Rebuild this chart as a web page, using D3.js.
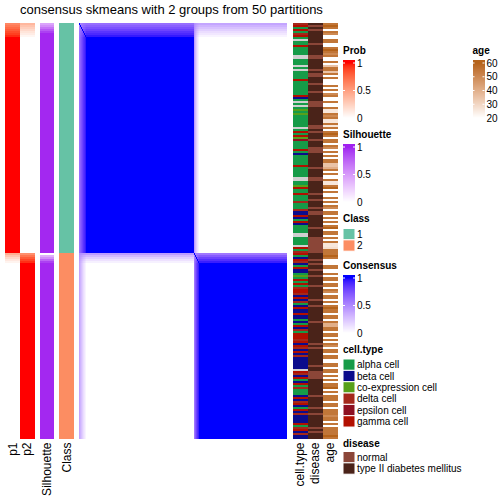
<!DOCTYPE html>
<html><head><meta charset="utf-8">
<script src="https://cdn.jsdelivr.net/npm/d3@7"></script>
<style>
body{margin:0;background:#fff}
svg{display:block}
text{font-family:"Liberation Sans",Arial,Helvetica,sans-serif;fill:#000}
</style></head>
<body><svg id="chart" width="504" height="504"></svg>
<script>
// ---------------- data ----------------
const chartTitle = "consensus skmeans with 2 groups from 50 partitions";
const classes = [1, 2];
const groupSizes = [115, 93];
// probability of class 1, per sample in plotted order, as runs [value, count]
const p1Runs = [[0.62,1],[0.68,1],[0.74,1],[0.8,1],[0.86,1],[0.9,1],[0.95,1],[1,108],
                [0.42,1],[0.3,1],[0.2,1],[0.12,1],[0.06,1],[0,88]];
// silhouette, per sample, runs [value, count]
const silRuns = [[0.45,1],[0.55,1],[0.68,1],[0.8,1],[0.9,1],[0.98,110],
                 [0,1],[0.4,1],[0.55,1],[0.75,1],[0.9,1],[0.98,88]];
const cellTypes = ["alpha cell","beta cell","co-expression cell","delta cell","epsilon cell","gamma cell"];
// a=alpha b=beta c=co-expression d=delta e=epsilon g=gamma x=missing
const cellTypeCodes = [
  "dgagadgaxa","agaaaaxxaa","axaxaaaaga","aaaaaagbax","axacacaaaa","aaxagagcea",
  "aaagabaaaa","agaaaaaxxa","acgaagaaad","aaadbbgbag","baaaaxxaaa","axgad",
  "gabgdbag","bb","aca","gagad","ggd","bgbdabg","bbgbbab","agbdag","ggdgbgd","bgbd",
  "bbbbbb","x","gd","bgabgad","aaa","bgbd","gbagbd","bbbb","gadgbdbb"].join("");
const diseases = ["normal","type II diabetes mellitus"];
// n=normal t=type II diabetes mellitus
const diseaseCodes = [
  "tntntttttt","ntttttnntt","tttntnnttt","ntttnttttn","nntttttttt","tnntntttnt",
  "ttnnnttttt","ttnttttnnt","tttttnttnt","ttntnntttt","ttnttttnnn","nnnnn",
  "tttntnttnt","tnttttnttt","tttnttnttt","ttttnttttt","tttttntntt","ttttttnttn",
  "nnnttttttt","tntttttntt","nttttttntn","ttt"].join("");
const ages = [
  55,60,55,20,55,50,20,20,55,55, 20,20,55,60,55,50,55,20,20,55,
  20,35,55,55,35,55,20,55,20,20, 20,55,20,55,20,50,55,20,20,55,
  20,20,55,26,26,55,50,55,26,26, 55,26,55,20,55,60,55,20,55,55,
  20,55,50,20,55,20,55,20,55,55, 35,35,40,55,20,55,20,20,55,26,
  26,55,60,20,55,20,20,55,20,55, 20,55,50,20,55,55,20,55,20,55,
  20,55,60,20,55,55,20,55,20,55, 26,26,28,55,55,
  55,60,55,20,20,20,55,55,20,20, 55,20,55,55,20,55,55,20,55,50,
  20,55,55,20,55,20,55,60,55,55, 20,55,55,20,55,40,40,55,55,20,
  55,55,20,55,20,55,50,20,55,55, 20,55,55,20,20,55,55,20,55,55,
  20,55,20,55,20,55,55,60,20,55, 20,55,55,55,20,55,55,20,55,55,
  55,50,55,55,20,55,20,55,55,55, 55,60,55];

// ---------------- colours ----------------
const probColor = d3.interpolateLab("#FFFFFF", "#FF0000");
const silColor = d3.interpolateLab("#FFFFFF", "#A020F0");
const consColor = d3.interpolateLab("#FFFFFF", "#0000FF");
const classColor = d3.scaleOrdinal().domain(classes).range(["#66C2A5", "#FC8D62"]);
const cellColor = d3.scaleOrdinal().domain(cellTypes).range(["#169B48","#0C0C8C","#57A01B","#A4281B","#8E1020","#B20F00"]);
const diseaseColor = d3.scaleOrdinal().domain(diseases).range(["#8B4638","#4A2319"]);
const ageInterp = d3.interpolateLab("#FFFFFF", "#B5631A");
const ageColor = v => ageInterp(Math.max(0, Math.min(1, (v - 20) / 40)));
const naColor = "#D0D0D0";

// ---------------- derived per-sample arrays ----------------
const expand = runs => runs.flatMap(([v, n]) => Array(n).fill(v));
const p1 = expand(p1Runs);
const p2 = p1.map(v => 1 - v);
const sil = expand(silRuns);
const N = d3.sum(groupSizes);
const samples = d3.range(N);
const cls = samples.map(i => i < groupSizes[0] ? 1 : 2);
const codeCell = {a:"alpha cell",b:"beta cell",c:"co-expression cell",d:"delta cell",e:"epsilon cell",g:"gamma cell",x:null};
const codeDis = {n:"normal",t:"type II diabetes mellitus"};
const cellType = samples.map(i => codeCell[cellTypeCodes[i]] ?? null);
const disease = samples.map(i => codeDis[diseaseCodes[i]] ?? null);

// ---------------- layout ----------------
const svg = d3.select("#chart");
const yTop = 23, yBottom = 438.5;
const y = d3.scaleBand().domain(samples).range([yTop, yBottom]);
const xh = d3.scaleBand().domain(samples).range([79, 287]);

svg.append("text").attr("x", 171.5).attr("y", 14).attr("text-anchor", "middle")
  .style("font-size", "13px").text(chartTitle);

// annotation columns
function column(x0, w, values, colorFn, name) {
  const g = svg.append("g");
  g.selectAll("rect").data(samples).join("rect")
    .attr("x", x0).attr("width", w)
    .attr("y", i => y(i)).attr("height", y.bandwidth() + 0.05)
    .attr("fill", i => values[i] == null ? naColor : colorFn(values[i]))
    .attr("shape-rendering", "crispEdges");
  if (name) {
    svg.append("text").attr("transform", `translate(${x0 + w / 2},${yBottom + 4}) rotate(-90)`)
      .attr("text-anchor", "end").attr("dominant-baseline", "central")
      .style("font-size", "12px").text(name);
  }
}
column(5, 15, p1, probColor, "p1");
column(20, 14.5, p2, probColor, "p2");
column(39.5, 14.5, sil, silColor, "Silhouette");
column(59, 15, cls, classColor, "Class");
column(293, 14.5, cellType, cellColor, "cell.type");
column(308, 14.5, disease, diseaseColor, "disease");
column(323, 14.5, ages, ageColor, "age");

// consensus heatmap
const cells = [];
samples.forEach(i => samples.forEach(j => {
  const c = i === j ? 1 : p1[i] * p1[j] + p2[i] * p2[j];
  if (c > 0.004) cells.push({i, j, c});
}));
svg.append("g").selectAll("rect").data(cells).join("rect")
  .attr("x", d => xh(d.j)).attr("width", xh.bandwidth() + 0.05)
  .attr("y", d => y(d.i)).attr("height", y.bandwidth() + 0.05)
  .attr("fill", d => consColor(d.c))
  .attr("shape-rendering", "crispEdges");

// ---------------- legends ----------------
const LX = 343, LW = 12;
function legendTitle(x, yb, t) {
  svg.append("text").attr("x", x).attr("y", yb).style("font-size", "10px")
    .style("font-weight", "bold").text(t);
}
function contLegend(x, title, titleY, barTop, barBot, tTop, tBot, domain, ticks, color) {
  legendTitle(x, titleY, title);
  const s = d3.scaleLinear().domain(domain).range([tBot, tTop]);
  const rows = d3.range(barTop, barBot, 1);
  svg.append("g").selectAll("rect").data(rows).join("rect")
    .attr("x", x).attr("width", LW).attr("y", r => r).attr("height", 1.05)
    .attr("fill", r => { const v = Math.max(domain[0], Math.min(domain[1], s.invert(r + 0.5))); return color(v); })
    .attr("shape-rendering", "crispEdges");
  const g = svg.append("g");
  ticks.forEach(t => {
    g.append("line").attr("x1", x).attr("x2", x + 2).attr("y1", s(t)).attr("y2", s(t)).attr("stroke", "#fff").attr("stroke-width", 1);
    g.append("line").attr("x1", x + LW - 2).attr("x2", x + LW).attr("y1", s(t)).attr("y2", s(t)).attr("stroke", "#fff").attr("stroke-width", 1);
    g.append("text").attr("x", x + LW + 2).attr("y", s(t)).attr("dominant-baseline", "central")
      .style("font-size", "10px").text(t);
  });
}
function discLegend(x, title, titleY, boxTop, labels, color) {
  legendTitle(x, titleY, title);
  const s = d3.scaleBand().domain(labels).range([boxTop, boxTop + 11.34 * labels.length]);
  const g = svg.append("g");
  g.selectAll("rect").data(labels).join("rect")
    .attr("x", x).attr("width", LW).attr("y", d => s(d)).attr("height", s.bandwidth())
    .attr("fill", d => color(d)).attr("stroke", "#fff").attr("stroke-width", 1);
  g.selectAll("text").data(labels).join("text")
    .attr("x", x + LW + 2).attr("y", d => s(d) + s.bandwidth() / 2).attr("dominant-baseline", "central")
    .style("font-size", "10px").text(d => d);
}
contLegend(LX, "Prob", 54, 60, 121, 63, 118, [0, 1], [0, 0.5, 1], probColor);
contLegend(LX, "Silhouette", 138, 144, 205, 147, 202, [0, 1], [0, 0.5, 1], silColor);
discLegend(LX, "Class", 222, 228.5, classes, classColor);
contLegend(LX, "Consensus", 269, 275, 336, 278, 333, [0, 1], [0, 0.5, 1], consColor);
discLegend(LX, "cell.type", 352.5, 359, cellTypes, cellColor);
discLegend(LX, "disease", 446.5, 451.5, diseases, diseaseColor);
contLegend(472.5, "age", 54, 60, 121, 63, 118, [20, 60], [20, 30, 40, 50, 60], ageColor);
</script></body></html>
